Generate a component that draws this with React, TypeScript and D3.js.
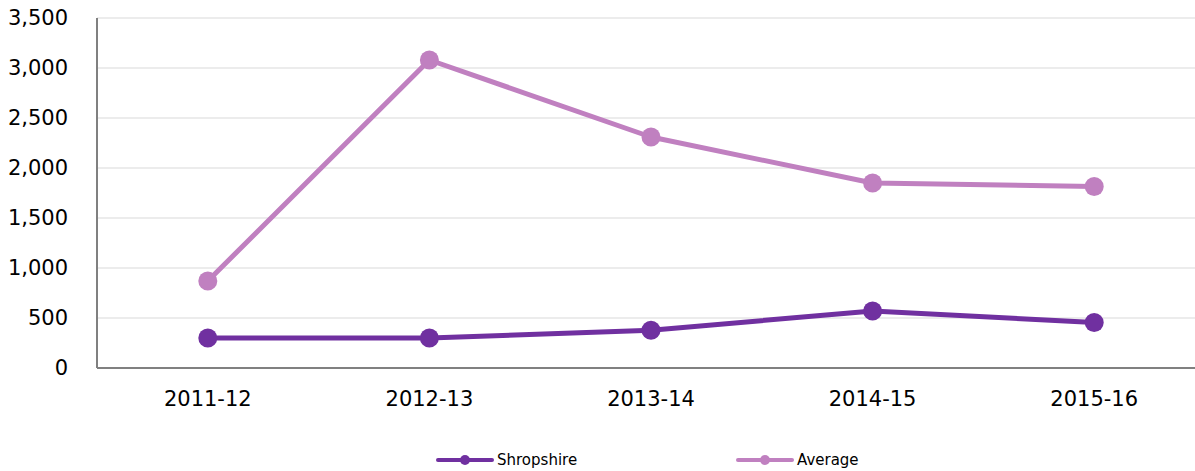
import React from "react";
import * as d3 from "d3";

const years = ["2011-12", "2012-13", "2013-14", "2014-15", "2015-16"];
const shropshire = [300, 300, 378, 570, 455];
const average = [870, 3080, 2310, 1850, 1815];
const yTicks = [0, 500, 1000, 1500, 2000, 2500, 3000, 3500];

const series = [
  { name: "Shropshire", values: shropshire, color: "#7030a0" },
  { name: "Average", values: average, color: "#c080c0" },
];

const W = 1195;
const H = 471;
const margin = { top: 18, left: 97, bottom: 103 };

export default function App() {
  const x = d3
    .scaleBand()
    .domain(years)
    .range([margin.left, margin.left + 1108]);
  const y = d3
    .scaleLinear()
    .domain([0, 3500])
    .range([H - margin.bottom, margin.top]);
  const fmt = d3.format(",");
  const cx = (i) => (x(years[i]) as number) + x.bandwidth() / 2;

  const line = d3
    .line<number>()
    .x((_, i) => cx(i))
    .y((d) => y(d));

  return (
    <svg
      width={W}
      height={H}
      style={{ position: "absolute", left: 0, top: 0, fontFamily: "DejaVu Sans, Verdana, sans-serif" }}
    >
      {/* grid */}
      {yTicks.slice(1).map((t) => (
        <line key={t} x1={margin.left} x2={W} y1={y(t)} y2={y(t)} stroke="#d9d9d9" strokeWidth={1} />
      ))}
      {yTicks.map((t) => (
        <text key={t} x={68} y={y(t)} dy="0.35em" textAnchor="end" fontSize={21} fill="#000">
          {fmt(t)}
        </text>
      ))}
      {/* axes */}
      <line x1={margin.left} x2={margin.left} y1={y(3500)} y2={y(0)} stroke="#808080" strokeWidth={2} />
      <line x1={margin.left} x2={W} y1={y(0)} y2={y(0)} stroke="#808080" strokeWidth={2} />
      {years.map((yr, i) => (
        <text key={yr} x={cx(i)} y={y(0) + 38} textAnchor="middle" fontSize={21} fill="#000">
          {yr}
        </text>
      ))}
      {/* series */}
      {series.map((s) => (
        <g key={s.name}>
          <path d={line(s.values) as string} fill="none" stroke={s.color} strokeWidth={5} strokeLinejoin="round" />
          {s.values.map((v, i) => (
            <circle key={i} cx={cx(i)} cy={y(v)} r={9.5} fill={s.color} />
          ))}
        </g>
      ))}
      {/* legend */}
      {series.map((s, i) => {
        const lx = 438 + i * 300;
        const ly = 460;
        return (
          <g key={s.name}>
            <line x1={lx} x2={lx + 54} y1={ly} y2={ly} stroke={s.color} strokeWidth={4} strokeLinecap="round" />
            <circle cx={lx + 27} cy={ly} r={5} fill={s.color} />
            <text x={lx + 59} y={ly} dy="0.35em" fontSize={15} fill="#000">
              {s.name}
            </text>
          </g>
        );
      })}
    </svg>
  );
}
